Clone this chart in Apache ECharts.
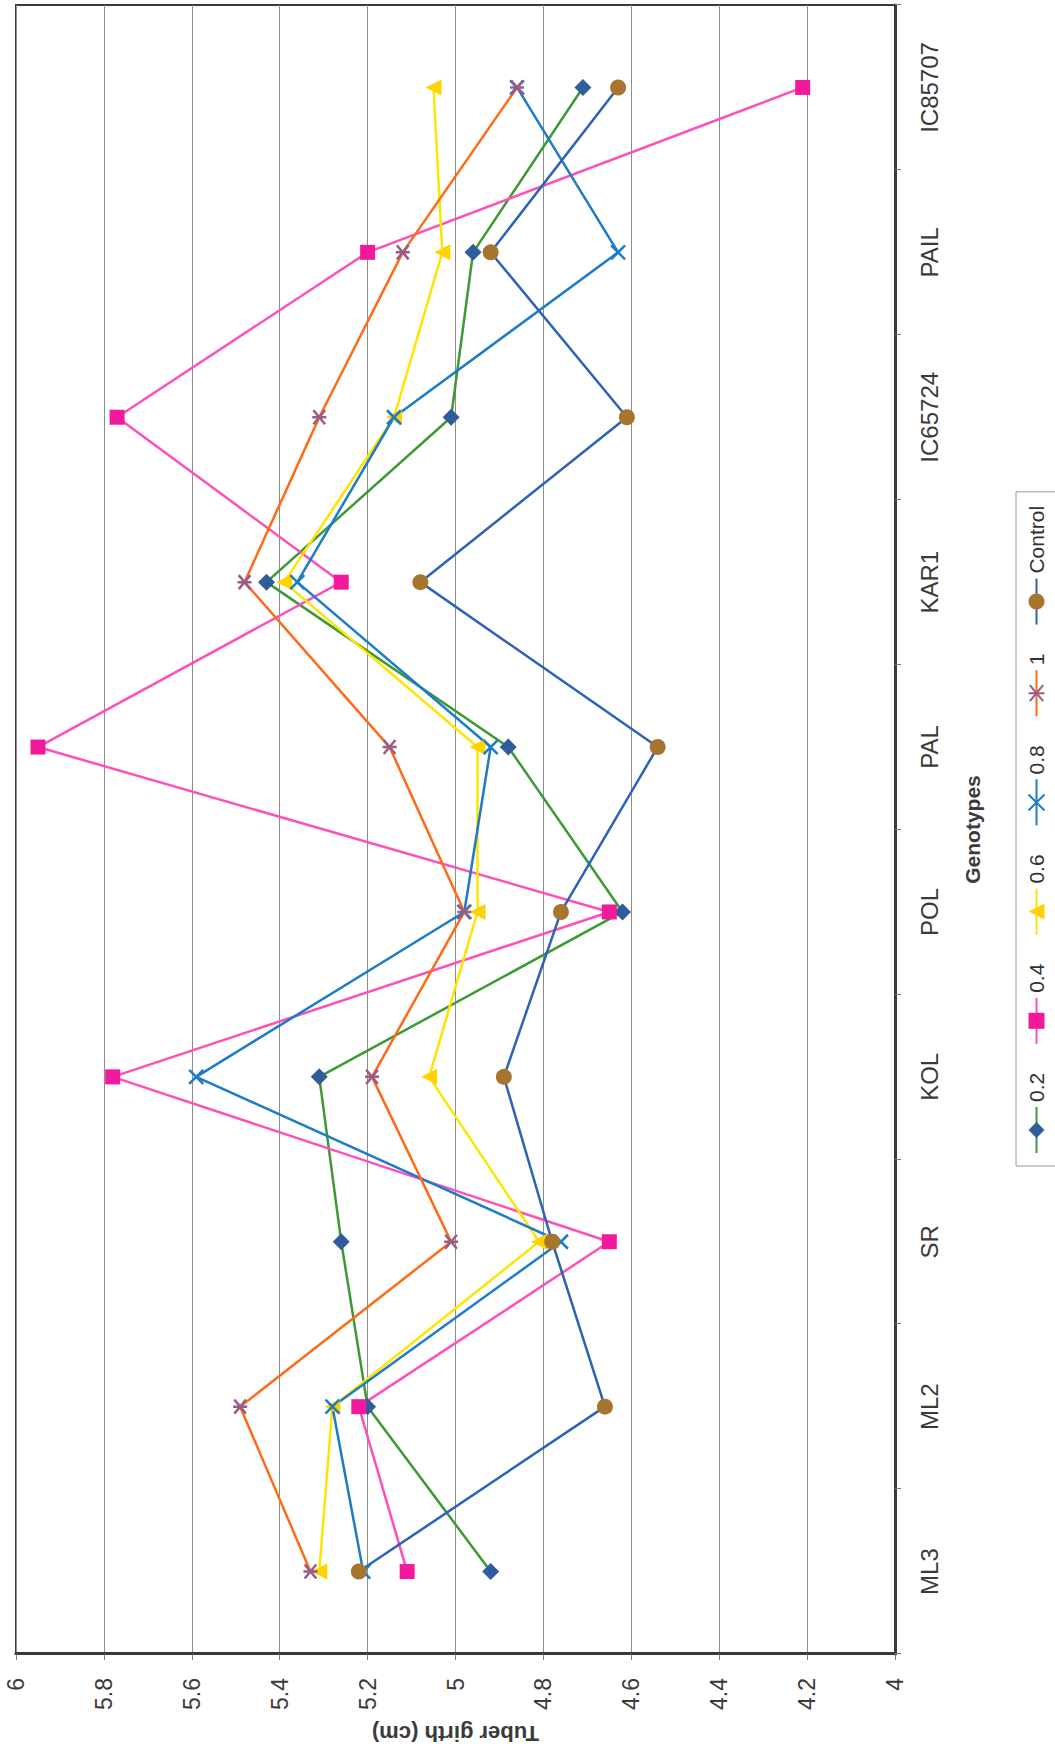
<!DOCTYPE html>
<html>
<head>
<meta charset="utf-8">
<title>Tuber girth by genotype</title>
<script src="https://cdn.jsdelivr.net/npm/echarts@6/dist/echarts.min.js"></script>
<style>
  html, body { margin: 0; padding: 0; background: #ffffff; overflow: hidden; width: 1055px; height: 1758px; }
  /* The chart is laid out landscape and turned a quarter turn counter-clockwise onto the portrait page. */
  #chart {
    position: absolute; left: 0; top: 0;
    width: 1758px; height: 1080px;
    transform-origin: 0 0;
    transform: translateY(1758px) rotate(-90deg);
    background: #ffffff;
  }
</style>
</head>
<body>
<div id="chart"></div>
<script>
// Genotypes along the category axis
const categories = ['ML3', 'ML2', 'SR', 'KOL', 'POL', 'PAL', 'KAR1', 'IC65724', 'PAIL', 'IC85707'];

// Tuber girth (cm) per treatment level
const girth02 = [4.92, 5.20, 5.26, 5.31, 4.62, 4.88, 5.43, 5.01, 4.96, 4.71];
const girth04 = [5.11, 5.22, 4.65, 5.78, 4.65, 5.95, 5.26, 5.77, 5.20, 4.21];
const girth06 = [5.31, 5.28, 4.81, 5.06, 4.95, 4.95, 5.39, 5.14, 5.03, 5.05];
const girth08 = [5.21, 5.28, 4.76, 5.59, 4.98, 4.92, 5.36, 5.14, 4.63, 4.86];
const girth10 = [5.33, 5.49, 5.01, 5.19, 4.98, 5.15, 5.48, 5.31, 5.12, 4.86];
const girthControl = [5.22, 4.66, 4.78, 4.89, 4.76, 4.54, 5.08, 4.61, 4.92, 4.63];

// Value axis range and step
const axisMin = 4;
const axisMax = 6;
const axisStep = 0.2;

const FONT = "'Liberation Sans', Arial, Helvetica, sans-serif";
const X_MARK = 'path://M0,0L10,10M10,0L0,10';
const STAR_MARK = 'path://M0,0L10,10M10,0L0,10M5,-1L5,11';

function lineSeries(name, data, lineColor, symbol, markColor, size, strokeMark) {
  return {
    name: name,
    type: 'line',
    data: data,
    symbol: symbol,
    symbolSize: size,
    showAllSymbol: true,
    lineStyle: { color: lineColor, width: 2.5 },
    itemStyle: strokeMark
      ? { color: markColor, borderColor: markColor, borderWidth: 2.5 }
      : { color: markColor, borderWidth: 0 },
    emphasis: { disabled: true },
    animation: false
  };
}

const chart = echarts.init(document.getElementById('chart'), null, { renderer: 'svg' });

chart.setOption({
  backgroundColor: '#ffffff',
  animation: false,
  textStyle: { fontFamily: FONT },
  grid: {
    left: 104, right: 5, top: 16, bottom: 185,
    show: true, borderColor: '#3a3a3a', borderWidth: 2,
    backgroundColor: '#ffffff'
  },
  legend: {
    left: 592, top: 1016,
    orient: 'horizontal',
    padding: [10, 14, 40, 12],
    itemGap: 28,
    itemWidth: 46, itemHeight: 20,
    borderColor: '#9a9a9a', borderWidth: 1,
    backgroundColor: '#ffffff',
    textStyle: { fontFamily: FONT, fontSize: 21, color: '#333333' },
    data: ['0.2', '0.4', '0.6', '0.8', '1', 'Control']
  },
  xAxis: {
    type: 'category',
    data: categories,
    boundaryGap: true,
    name: 'Genotypes',
    nameLocation: 'middle',
    nameGap: 67,
    nameTextStyle: { fontFamily: FONT, fontSize: 21, fontWeight: 'bold', color: '#3a3a3a' },
    axisLine: { show: true, lineStyle: { color: '#3a3a3a', width: 3 } },
    axisTick: { show: true, alignWithLabel: false, length: 6, lineStyle: { color: '#777777', width: 1 } },
    axisLabel: { margin: 22, fontSize: 24, color: '#3a3a3a', fontFamily: FONT },
    splitLine: { show: false }
  },
  yAxis: {
    type: 'value',
    min: axisMin, max: axisMax, interval: axisStep,
    name: 'Tuber girth (cm)',
    nameLocation: 'middle',
    nameRotate: 90,
    nameGap: 68,
    nameTextStyle: { fontFamily: FONT, fontSize: 22, fontWeight: 'bold', color: '#3a3a3a' },
    axisLine: { show: true, lineStyle: { color: '#3a3a3a', width: 3 } },
    axisTick: { show: true, length: 6, lineStyle: { color: '#777777', width: 1 } },
    axisLabel: { margin: 24, fontSize: 23, color: '#3a3a3a', fontFamily: FONT },
    splitLine: { show: true, lineStyle: { color: '#8c8c8c', width: 1 } }
  },
  series: [
    lineSeries('0.2', girth02, '#3c9a32', 'diamond', '#2f5d9c', 17, false),
    lineSeries('0.4', girth04, '#ff4fb8', 'rect', '#f2199c', 15, false),
    lineSeries('0.6', girth06, '#ffe400', 'triangle', '#ffd200', 16, false),
    lineSeries('0.8', girth08, '#1c7cc8', X_MARK, '#1c7cc8', 14, true),
    lineSeries('1', girth10, '#ff6a17', STAR_MARK, '#9a5c84', 14, true),
    lineSeries('Control', girthControl, '#2c63b8', 'circle', '#a8752e', 16, false)
  ]
});
</script>
</body>
</html>
